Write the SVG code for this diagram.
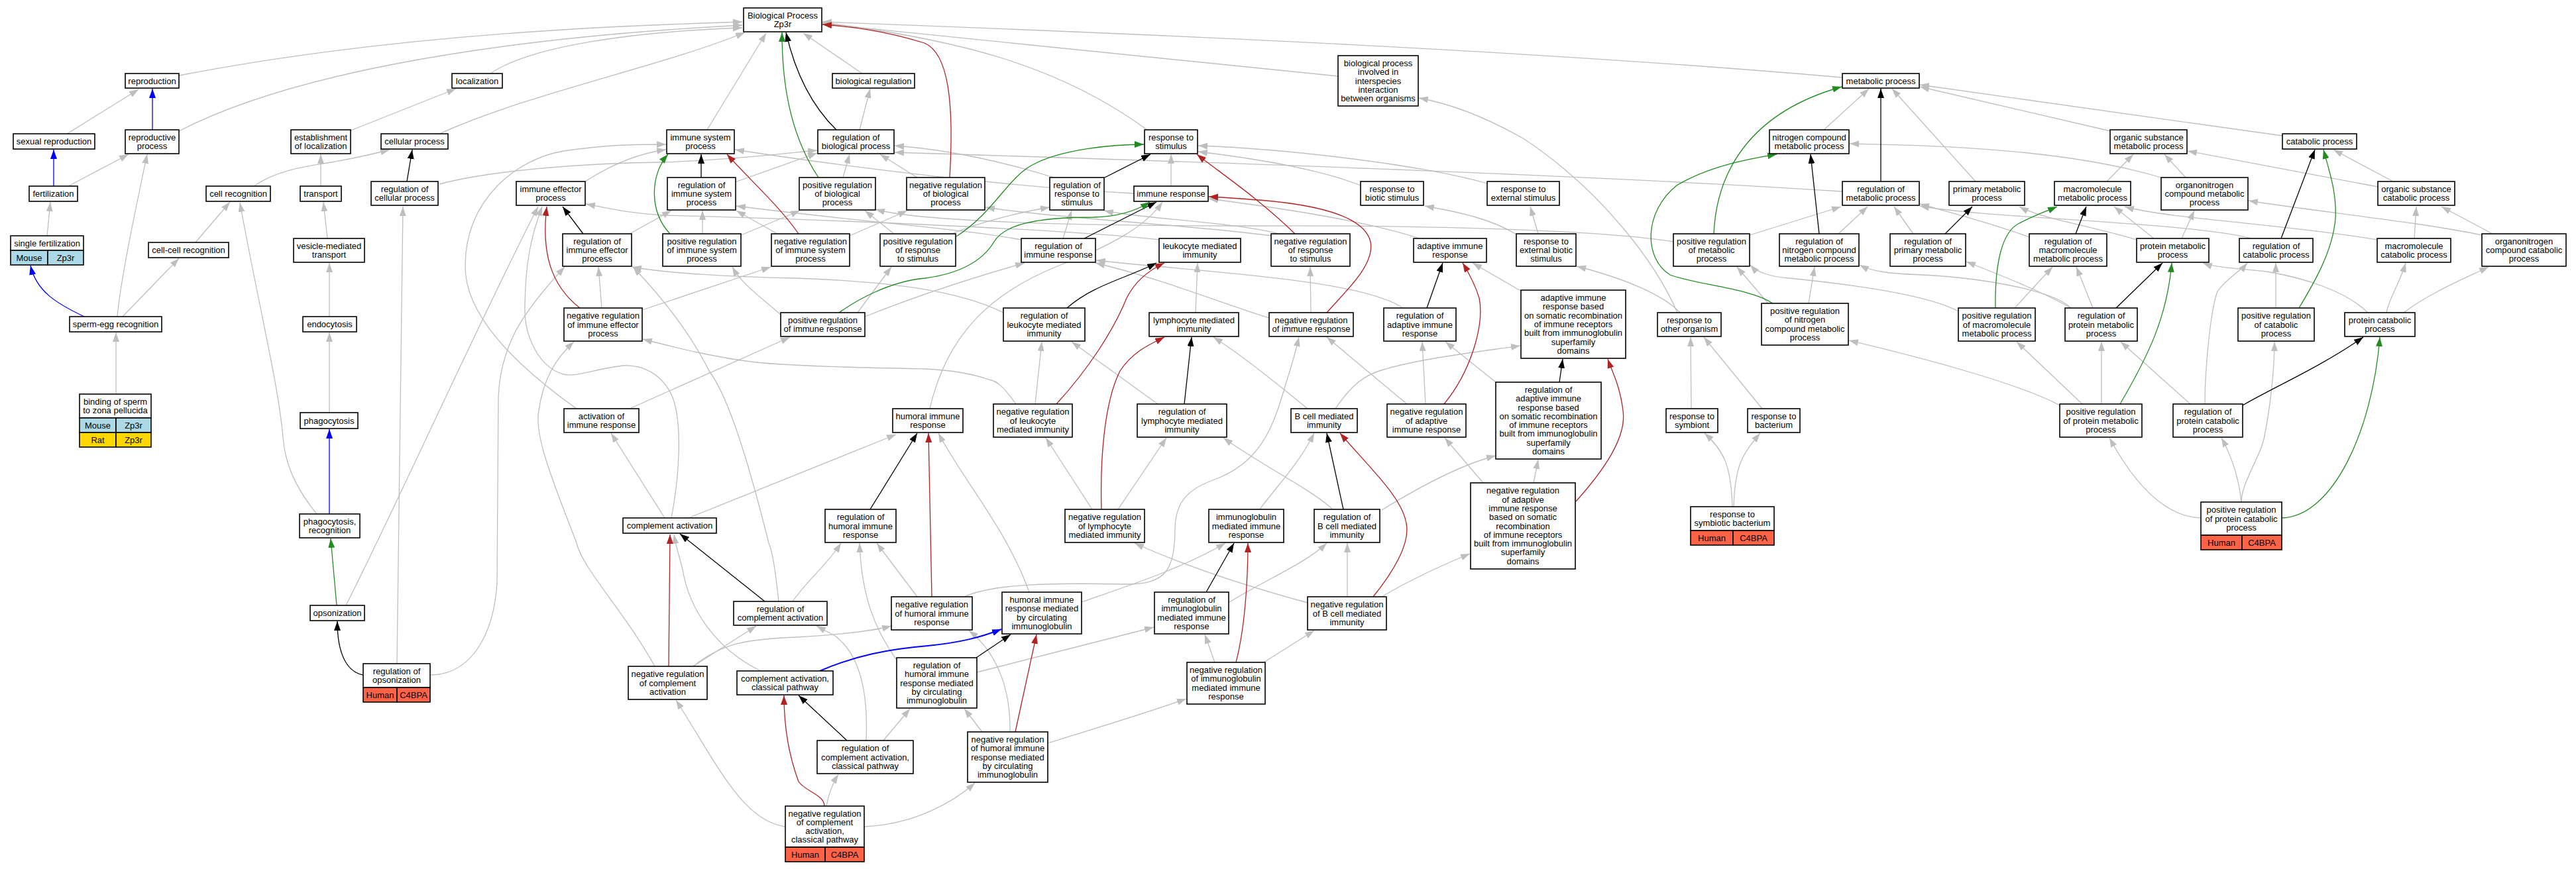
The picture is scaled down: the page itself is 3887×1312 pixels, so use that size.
<svg xmlns="http://www.w3.org/2000/svg" width="3887" height="1312" viewBox="0 0 3887 1312">
<style>
.bg{fill:#fff}
.box{fill:#fff;stroke:#000;stroke-width:1.6}
.cb{fill:#add8e6;stroke:#000;stroke-width:1.6}
.cy{fill:#ffd700;stroke:#000;stroke-width:1.6}
.cr{fill:#ff6347;stroke:#000;stroke-width:1.6}
text{font-family:"Liberation Sans",Arial,Helvetica,sans-serif;font-size:13px;fill:#000;text-anchor:middle;dominant-baseline:central}
.e path{fill:none;stroke-width:1.3}
.e .g{stroke:#bebebe;marker-end:url(#ag)}
.e .k{stroke:#000;marker-end:url(#ak)}
.e .gr{stroke:#228b22;marker-end:url(#agr)}
.e .r{stroke:#b22222;marker-end:url(#ar)}
.e .b{stroke:#0000ff;marker-end:url(#ab)}
</style>
<defs>
<marker id="ag" markerUnits="userSpaceOnUse" markerWidth="15" markerHeight="11" refX="14" refY="5" orient="auto"><path d="M0,0 L14,5 L0,10 z" fill="#bebebe"/></marker>
<marker id="ak" markerUnits="userSpaceOnUse" markerWidth="15" markerHeight="11" refX="14" refY="5" orient="auto"><path d="M0,0 L14,5 L0,10 z" fill="#000"/></marker>
<marker id="agr" markerUnits="userSpaceOnUse" markerWidth="15" markerHeight="11" refX="14" refY="5" orient="auto"><path d="M0,0 L14,5 L0,10 z" fill="#228b22"/></marker>
<marker id="ar" markerUnits="userSpaceOnUse" markerWidth="15" markerHeight="11" refX="14" refY="5" orient="auto"><path d="M0,0 L14,5 L0,10 z" fill="#b22222"/></marker>
<marker id="ab" markerUnits="userSpaceOnUse" markerWidth="15" markerHeight="11" refX="14" refY="5" orient="auto"><path d="M0,0 L14,5 L0,10 z" fill="#0000ff"/></marker>
</defs>
<rect class="bg" x="0" y="0" width="3887" height="1312"/>
<g id="connectors" class="e">
<path class="g" d="M270,114 C600,50 950,38 1120,33"/>
<path class="g" d="M270,198 C420,120 700,60 1120,38"/>
<path class="g" d="M740,111 C800,70 950,48 1120,42"/>
<path class="g" d="M663,202 C800,140 1000,100 1124,49"/>
<path class="g" d="M101,202 L209,135"/>
<path class="g" d="M103,281 L194,233"/>
<path class="g" d="M71,356 L76,305"/>
<path class="g" d="M185,478 L270,390"/>
<path class="g" d="M177,478 C182,420 208,300 222,233"/>
<path class="g" d="M175,595 L175,502"/>
<path class="g" d="M295,366 L347,305"/>
<path class="g" d="M383,281 C420,255 470,250 500,245 C540,238 565,232 588,226"/>
<path class="g" d="M529,197 L688,134"/>
<path class="g" d="M484,281 L484,233"/>
<path class="g" d="M494,360 L488,305"/>
<path class="g" d="M497,478 L497,397"/>
<path class="g" d="M497,623 L497,502"/>
<path class="g" d="M478,776 C445,735 430,700 427,660 C420,580 390,460 362,306"/>
<path class="g" d="M599,1002 L608,312"/>
<path class="g" d="M663,278 C750,255 900,246 1000,245 C1100,242 1180,232 1233,227"/>
<path class="g" d="M1067,196 L1156,50"/>
<path class="g" d="M1301,111 L1212,50"/>
<path class="g" d="M1731,196 C1600,100 1450,60 1241,34"/>
<path class="g" d="M2780,117 C2300,75 1700,50 1241,33"/>
<path class="g" d="M2019,115 L1241,36"/>
<path class="g" d="M1297,196 L1313,134"/>
<path class="g" d="M1711,292 C1500,280 1300,255 1109,226"/>
<path class="g" d="M883,274 C920,250 960,232 1005,226"/>
<path class="g" d="M870,617 C790,560 700,480 702,400 C703,300 780,240 850,228 C920,218 960,218 1005,218"/>
<path class="g" d="M1109,275 L1233,231"/>
<path class="g" d="M1272,268 L1282,233"/>
<path class="g" d="M1384,268 L1328,233"/>
<path class="g" d="M2780,289 C2400,265 1900,247 1350,230"/>
<path class="g" d="M1590,268 C1500,240 1420,225 1350,220"/>
<path class="g" d="M1767,281 L1767,233"/>
<path class="g" d="M2244,277 C2150,250 1950,225 1808,220"/>
<path class="g" d="M2053,280 C1990,255 1900,240 1808,229"/>
<path class="g" d="M522,914 C600,760 730,470 812,312"/>
<path class="g" d="M1013,782 C1025,720 1030,640 1015,600 C1000,565 970,550 940,552 C900,556 870,570 850,565 C815,555 790,510 792,460 C793,400 800,360 818,312"/>
<path class="g" d="M1749,362 C1600,345 1200,330 1000,325 C950,322 920,315 884,308"/>
<path class="g" d="M950,353 L1013,318"/>
<path class="g" d="M1060,353 L1060,318"/>
<path class="g" d="M1173,353 L1111,318"/>
<path class="g" d="M1541,362 C1450,345 1300,335 1111,311"/>
<path class="g" d="M1118,355 L1207,318"/>
<path class="g" d="M1349,353 L1305,318"/>
<path class="g" d="M2525,365 C2400,345 2100,340 1900,341 C1700,341 1400,338 1321,316"/>
<path class="g" d="M1282,356 L1369,318"/>
<path class="g" d="M1919,356 C1800,340 1600,330 1487,313"/>
<path class="g" d="M1436,353 C1480,335 1540,320 1584,313"/>
<path class="g" d="M1930,353 C1860,335 1720,330 1666,318"/>
<path class="g" d="M1604,360 L1617,318"/>
<path class="g" d="M649,1019 C710,1019 745,960 750,880 L752,600 C755,520 790,470 852,403"/>
<path class="g" d="M908,465 L903,403"/>
<path class="g" d="M1175,908 C1170,860 1165,830 1160,820 C1130,700 1100,600 1070,560 C1040,500 1000,450 955,403"/>
<path class="g" d="M1514,472 C1450,440 1350,425 1200,420 C1100,418 1000,412 954,403"/>
<path class="g" d="M988,1006 C940,920 880,860 870,820 C840,740 805,660 813,620 C820,570 840,540 866,516"/>
<path class="g" d="M1533,610 C1515,585 1505,575 1492,573 C1460,562 1420,558 1396,557 C1300,555 1200,553 1141,547 C1080,540 1020,525 970,512"/>
<path class="g" d="M969,468 L1163,403"/>
<path class="g" d="M950,617 L1192,509"/>
<path class="g" d="M1178,475 C1150,450 1120,430 1105,403"/>
<path class="g" d="M1294,472 L1345,403"/>
<path class="g" d="M1305,478 C1400,440 1500,410 1546,397"/>
<path class="g" d="M1915,480 C1850,460 1750,420 1653,397"/>
<path class="g" d="M2117,465 C2050,420 1800,410 1654,393"/>
<path class="g" d="M1978,472 L1977,403"/>
<path class="g" d="M1403,617 C1430,500 1500,440 1600,400 C1680,370 1730,340 1754,305"/>
<path class="g" d="M2142,360 C2050,330 1900,310 1824,300"/>
<path class="g" d="M1804,472 L1807,397"/>
<path class="g" d="M1562,610 L1572,516"/>
<path class="g" d="M1747,610 L1617,516"/>
<path class="g" d="M1973,617 C1940,590 1880,540 1831,509"/>
<path class="g" d="M1039,782 L1352,656"/>
<path class="g" d="M1553,894 C1520,800 1450,720 1416,654"/>
<path class="g" d="M1003,782 L922,654"/>
<path class="g" d="M1648,769 L1578,661"/>
<path class="g" d="M1687,769 L1760,661"/>
<path class="g" d="M2011,769 C1980,740 1900,700 1846,661"/>
<path class="g" d="M1196,908 C1215,880 1250,850 1269,820"/>
<path class="g" d="M1352,995 C1320,950 1300,900 1297,820"/>
<path class="g" d="M1384,901 L1323,820"/>
<path class="g" d="M1973,910 C1900,890 1800,860 1712,820"/>
<path class="g" d="M1632,909 C1700,885 1780,860 1849,820"/>
<path class="g" d="M1900,770 C1930,730 1960,700 1983,654"/>
<path class="g" d="M1455,901 C1500,880 1600,880 1700,882 C1760,882 1772,860 1773,800 C1773,760 1790,740 1830,725 C1900,700 1920,650 1940,580 C1950,550 1955,530 1960,509"/>
<path class="g" d="M2123,610 L2002,509"/>
<path class="g" d="M2296,440 L2222,397"/>
<path class="g" d="M2151,610 L2146,516"/>
<path class="g" d="M2257,577 L2181,516"/>
<path class="g" d="M2015,617 C2040,580 2060,565 2091,557 C2150,540 2240,530 2294,522"/>
<path class="g" d="M2314,729 L2321,694"/>
<path class="g" d="M2085,770 C2150,730 2210,700 2257,688"/>
<path class="g" d="M2238,729 L2180,661"/>
<path class="g" d="M2085,901 C2120,880 2160,860 2218,836"/>
<path class="g" d="M2033,901 L2033,820"/>
<path class="g" d="M1855,909 C1920,870 1970,850 2002,820"/>
<path class="g" d="M1907,1000 L1983,952"/>
<path class="g" d="M1833,1000 L1818,958"/>
<path class="g" d="M1581,1122 C1650,1100 1720,1080 1790,1055"/>
<path class="g" d="M1482,1105 L1455,1070"/>
<path class="g" d="M1524,1105 C1525,1050 1510,990 1462,952"/>
<path class="g" d="M1474,1015 L1741,947"/>
<path class="g" d="M1333,1118 L1373,1070"/>
<path class="g" d="M1307,1118 C1310,1050 1300,990 1260,960 L1232,945"/>
<path class="g" d="M1247,1217 C1250,1200 1255,1185 1265,1169"/>
<path class="g" d="M1185,1248 C1120,1240 1080,1150 1020,1057"/>
<path class="g" d="M1304,1248 C1380,1245 1440,1210 1471,1182"/>
<path class="g" d="M1148,1013 C1080,980 1040,920 1030,860 C1025,840 1020,825 1017,807"/>
<path class="g" d="M1046,1006 L1141,945"/>
<path class="g" d="M1046,1006 C1090,970 1130,965 1200,962 C1270,958 1320,952 1345,945"/>
<path class="g" d="M2531,472 C2500,400 2420,290 2300,210 C2230,170 2180,155 2141,148"/>
<path class="g" d="M2535,472 C2510,445 2450,420 2379,402"/>
<path class="g" d="M2552,617 L2551,509"/>
<path class="g" d="M2659,617 L2571,509"/>
<path class="g" d="M2614,765 C2612,700 2600,680 2572,654"/>
<path class="g" d="M2616,765 C2618,700 2630,685 2656,654"/>
<path class="g" d="M2321,353 L2309,312"/>
<path class="g" d="M2290,355 C2250,330 2200,320 2150,311"/>
<path class="g" d="M2751,197 L2820,134"/>
<path class="g" d="M2981,274 L2855,134"/>
<path class="g" d="M3185,198 L2897,131"/>
<path class="g" d="M3444,205 L2897,128"/>
<path class="g" d="M2774,353 L2818,312"/>
<path class="g" d="M2640,355 L2778,312"/>
<path class="g" d="M2887,353 L2858,312"/>
<path class="g" d="M3397,360 C3300,335 3000,330 2897,311"/>
<path class="g" d="M3062,358 C3000,335 2940,320 2897,308"/>
<path class="g" d="M2729,458 L2738,403"/>
<path class="g" d="M3125,465 C3100,440 3000,420 2900,415 C2850,413 2825,410 2806,400"/>
<path class="g" d="M3108,612 C3050,580 2900,540 2790,514"/>
<path class="g" d="M2668,458 L2621,403"/>
<path class="g" d="M2955,470 C2900,440 2750,425 2700,420 C2670,418 2650,410 2641,400"/>
<path class="g" d="M3125,465 C3080,440 3030,420 2967,395"/>
<path class="g" d="M3040,465 L3097,403"/>
<path class="g" d="M3158,465 L3133,403"/>
<path class="g" d="M3250,360 L3190,312"/>
<path class="g" d="M3292,360 L3311,318"/>
<path class="g" d="M3587,362 C3461,340 3270,330 3206,312"/>
<path class="g" d="M3643,360 L3646,312"/>
<path class="g" d="M3761,353 L3684,312"/>
<path class="g" d="M3745,355 C3650,335 3500,320 3393,303"/>
<path class="g" d="M3611,274 L3521,226"/>
<path class="g" d="M3588,282 L3301,228"/>
<path class="g" d="M3179,274 L3219,233"/>
<path class="g" d="M3298,268 L3266,233"/>
<path class="g" d="M3261,268 C3150,235 3000,220 2791,217"/>
<path class="g" d="M3224,362 C3150,340 3080,330 3047,312"/>
<path class="g" d="M3434,465 L3434,397"/>
<path class="g" d="M3382,758 C3382,730 3410,690 3416,663 C3425,620 3432,560 3432,516"/>
<path class="g" d="M3573,472 C3540,440 3480,420 3420,410 C3370,405 3340,403 3324,397"/>
<path class="g" d="M3601,472 C3605,450 3620,430 3630,397"/>
<path class="g" d="M3627,472 C3670,440 3720,420 3755,403"/>
<path class="g" d="M3327,610 C3327,560 3335,470 3346,440 C3360,420 3380,410 3391,397"/>
<path class="g" d="M3305,610 L3200,516"/>
<path class="g" d="M3171,610 L3171,516"/>
<path class="g" d="M3142,610 L3043,516"/>
<path class="g" d="M3321,782 C3260,780 3215,720 3183,661"/>
<path class="g" d="M3382,758 C3378,720 3368,690 3352,661"/>
<path class="k" d="M614,274 L622,226"/>
<path class="k" d="M1262,196 C1225,160 1200,110 1186,49"/>
<path class="k" d="M1058,268 L1058,233"/>
<path class="k" d="M880,353 L849,312"/>
<path class="k" d="M1667,268 L1736,233"/>
<path class="k" d="M1636,360 L1745,305"/>
<path class="k" d="M1610,465 C1650,430 1700,420 1745,397"/>
<path class="k" d="M1787,610 L1798,509"/>
<path class="k" d="M1313,769 L1384,654"/>
<path class="k" d="M1154,908 L1026,806"/>
<path class="k" d="M1278,1118 L1205,1050"/>
<path class="k" d="M1473,993 L1525,958"/>
<path class="k" d="M1820,894 L1862,820"/>
<path class="k" d="M2027,769 L2002,654"/>
<path class="k" d="M2153,465 L2177,397"/>
<path class="k" d="M2353,577 L2358,542"/>
<path class="k" d="M548,1019 C525,1015 509,990 509,938"/>
<path class="k" d="M2838,274 L2838,134"/>
<path class="k" d="M2745,353 L2732,233"/>
<path class="k" d="M2935,353 L2976,312"/>
<path class="k" d="M3132,353 L3148,312"/>
<path class="k" d="M3193,465 L3263,397"/>
<path class="k" d="M3442,360 L3493,226"/>
<path class="k" d="M3384,612 C3430,585 3500,555 3566,509"/>
<path class="gr" d="M1235,268 C1190,200 1180,120 1180,49"/>
<path class="gr" d="M1011,353 C980,320 980,265 1008,233"/>
<path class="gr" d="M1443,357 C1500,320 1520,270 1556,250 C1600,225 1680,218 1726,218"/>
<path class="gr" d="M1266,472 C1290,455 1340,425 1396,420 C1455,412 1485,390 1500,365 C1515,340 1560,328 1650,328 C1690,327 1715,318 1735,305"/>
<path class="gr" d="M508,914 L499,813"/>
<path class="gr" d="M2586,353 C2590,260 2640,170 2779,131"/>
<path class="gr" d="M2675,458 C2640,435 2560,430 2520,415 C2480,390 2480,320 2530,280 C2580,250 2640,240 2681,233"/>
<path class="gr" d="M3011,465 C3010,400 3020,350 3047,337 C3070,325 3090,318 3104,312"/>
<path class="gr" d="M3199,610 C3240,540 3270,480 3277,397"/>
<path class="gr" d="M3469,465 C3490,430 3520,380 3524,330 C3526,290 3515,260 3506,226"/>
<path class="gr" d="M3443,782 C3520,780 3580,650 3591,509"/>
<path class="r" d="M1433,268 C1440,150 1430,80 1395,65 C1330,45 1280,40 1241,37"/>
<path class="r" d="M1205,353 C1175,310 1130,270 1097,233"/>
<path class="r" d="M1954,353 C1900,300 1840,260 1806,233"/>
<path class="r" d="M875,465 C830,430 817,380 825,312"/>
<path class="r" d="M2002,472 C2030,440 2075,400 2068,365 C2060,330 2000,310 1900,302 C1870,300 1850,298 1824,297"/>
<path class="r" d="M1594,610 C1640,560 1680,500 1700,450 C1715,420 1740,405 1757,397"/>
<path class="r" d="M1662,769 C1660,700 1665,610 1690,560 C1710,530 1735,520 1757,509"/>
<path class="r" d="M1406,901 L1401,654"/>
<path class="r" d="M1009,1006 L1011,807"/>
<path class="r" d="M1244,1217 C1244,1200 1215,1195 1205,1180 C1190,1140 1183,1100 1183,1050"/>
<path class="r" d="M1532,1105 L1564,958"/>
<path class="r" d="M1865,1000 C1878,950 1883,880 1883,820"/>
<path class="r" d="M2072,901 C2105,860 2128,820 2122,790 C2115,750 2070,710 2022,654"/>
<path class="r" d="M2179,610 C2220,560 2240,490 2232,450 C2226,430 2215,410 2207,397"/>
<path class="r" d="M2378,757 C2420,710 2455,660 2449,620 C2444,580 2432,560 2426,542"/>
<path class="b" d="M230,196 L230,134"/>
<path class="b" d="M81,281 L81,226"/>
<path class="b" d="M127,478 C85,458 55,440 46,401"/>
<path class="b" d="M497,776 L497,648"/>
<path class="b" style="stroke-width:2" d="M1237,1013 C1290,990 1340,980 1400,975 C1450,970 1480,962 1511,950"/>
</g>
<g id="n-bp"><rect class="box" x="1122" y="12" width="118" height="36"/><text x="1181" y="23.35">Biological Process</text><text x="1181" y="36.65">Zp3r</text></g>
<g id="n-reproduction"><rect class="box" x="189" y="111" width="81" height="22"/><text x="229.5" y="122">reproduction</text></g>
<g id="n-localization"><rect class="box" x="682" y="111" width="76" height="22"/><text x="720" y="122">localization</text></g>
<g id="n-bioreg"><rect class="box" x="1256" y="111" width="124" height="22"/><text x="1318" y="122">biological regulation</text></g>
<g id="n-interspecies"><rect class="box" x="2019" y="84" width="121" height="76"/><text x="2079.5" y="95.4">biological process</text><text x="2079.5" y="108.7">involved in</text><text x="2079.5" y="122">interspecies</text><text x="2079.5" y="135.3">interaction</text><text x="2079.5" y="148.6">between organisms</text></g>
<g id="n-metabolic"><rect class="box" x="2780" y="111" width="116" height="22"/><text x="2838" y="122">metabolic process</text></g>
<g id="n-sexrep"><rect class="box" x="20" y="202" width="123" height="23"/><text x="81.5" y="213.5">sexual reproduction</text></g>
<g id="n-reproproc"><rect class="box" x="189" y="196" width="81" height="36"/><text x="229.5" y="207.35">reproductive</text><text x="229.5" y="220.65">process</text></g>
<g id="n-estloc"><rect class="box" x="439" y="196" width="90" height="36"/><text x="484" y="207.35">establishment</text><text x="484" y="220.65">of localization</text></g>
<g id="n-cellproc"><rect class="box" x="575" y="202" width="101" height="23"/><text x="625.5" y="213.5">cellular process</text></g>
<g id="n-isp"><rect class="box" x="1006" y="196" width="102" height="36"/><text x="1057" y="207.35">immune system</text><text x="1057" y="220.65">process</text></g>
<g id="n-regbio"><rect class="box" x="1234" y="196" width="115" height="36"/><text x="1291.5" y="207.35">regulation of</text><text x="1291.5" y="220.65">biological process</text></g>
<g id="n-respstim"><rect class="box" x="1727" y="196" width="80" height="36"/><text x="1767" y="207.35">response to</text><text x="1767" y="220.65">stimulus</text></g>
<g id="n-nitro"><rect class="box" x="2670" y="196" width="120" height="36"/><text x="2730" y="207.35">nitrogen compound</text><text x="2730" y="220.65">metabolic process</text></g>
<g id="n-orgsub"><rect class="box" x="3184" y="196" width="116" height="36"/><text x="3242" y="207.35">organic substance</text><text x="3242" y="220.65">metabolic process</text></g>
<g id="n-catab"><rect class="box" x="3444" y="202" width="112" height="23"/><text x="3500" y="213.5">catabolic process</text></g>
<g id="n-fert"><rect class="box" x="44" y="281" width="73" height="23"/><text x="80.5" y="292.5">fertilization</text></g>
<g id="n-cellrec"><rect class="box" x="311" y="281" width="97" height="23"/><text x="359.5" y="292.5">cell recognition</text></g>
<g id="n-transport"><rect class="box" x="453" y="281" width="62" height="23"/><text x="484" y="292.5">transport</text></g>
<g id="n-regcell"><rect class="box" x="560" y="274" width="101" height="36"/><text x="610.5" y="285.35">regulation of</text><text x="610.5" y="298.65">cellular process</text></g>
<g id="n-immeff"><rect class="box" x="779" y="274" width="104" height="36"/><text x="831" y="285.35">immune effector</text><text x="831" y="298.65">process</text></g>
<g id="n-regisp"><rect class="box" x="1007" y="268" width="103" height="49"/><text x="1058.5" y="279.2">regulation of</text><text x="1058.5" y="292.5">immune system</text><text x="1058.5" y="305.8">process</text></g>
<g id="n-posregbio"><rect class="box" x="1206" y="268" width="115" height="49"/><text x="1263.5" y="279.2">positive regulation</text><text x="1263.5" y="292.5">of biological</text><text x="1263.5" y="305.8">process</text></g>
<g id="n-negregbio"><rect class="box" x="1368" y="268" width="118" height="49"/><text x="1427" y="279.2">negative regulation</text><text x="1427" y="292.5">of biological</text><text x="1427" y="305.8">process</text></g>
<g id="n-regresp"><rect class="box" x="1584" y="268" width="82" height="49"/><text x="1625" y="279.2">regulation of</text><text x="1625" y="292.5">response to</text><text x="1625" y="305.8">stimulus</text></g>
<g id="n-immresp"><rect class="box" x="1711" y="281" width="112" height="23"/><text x="1767" y="292.5">immune response</text></g>
<g id="n-biotic"><rect class="box" x="2053" y="274" width="95" height="36"/><text x="2100.5" y="285.35">response to</text><text x="2100.5" y="298.65">biotic stimulus</text></g>
<g id="n-external"><rect class="box" x="2244" y="274" width="109" height="36"/><text x="2298.5" y="285.35">response to</text><text x="2298.5" y="298.65">external stimulus</text></g>
<g id="n-regmet"><rect class="box" x="2780" y="274" width="116" height="36"/><text x="2838" y="285.35">regulation of</text><text x="2838" y="298.65">metabolic process</text></g>
<g id="n-primary"><rect class="box" x="2941" y="274" width="114" height="36"/><text x="2998" y="285.35">primary metabolic</text><text x="2998" y="298.65">process</text></g>
<g id="n-macro"><rect class="box" x="3100" y="274" width="115" height="36"/><text x="3157.5" y="285.35">macromolecule</text><text x="3157.5" y="298.65">metabolic process</text></g>
<g id="n-orgnit"><rect class="box" x="3261" y="268" width="131" height="49"/><text x="3326.5" y="279.2">organonitrogen</text><text x="3326.5" y="292.5">compound metabolic</text><text x="3326.5" y="305.8">process</text></g>
<g id="n-orgsubcat"><rect class="box" x="3588" y="274" width="116" height="36"/><text x="3646" y="285.35">organic substance</text><text x="3646" y="298.65">catabolic process</text></g>
<g id="n-singfert"><rect class="box" x="16" y="356" width="110" height="22"/><text x="71" y="367">single fertilization</text><rect class="cb" x="16" y="378" width="56" height="22"/><rect class="cb" x="72" y="378" width="54" height="22"/><text x="44" y="389">Mouse</text><text x="99" y="389">Zp3r</text></g>
<g id="n-cellcell"><rect class="box" x="224" y="366" width="121" height="23"/><text x="284.5" y="377.5">cell-cell recognition</text></g>
<g id="n-vesicle"><rect class="box" x="443" y="360" width="107" height="36"/><text x="496.5" y="371.35">vesicle-mediated</text><text x="496.5" y="384.65">transport</text></g>
<g id="n-regimmeff"><rect class="box" x="849" y="353" width="104" height="49"/><text x="901" y="364.2">regulation of</text><text x="901" y="377.5">immune effector</text><text x="901" y="390.8">process</text></g>
<g id="n-posregisp"><rect class="box" x="1000" y="353" width="118" height="49"/><text x="1059" y="364.2">positive regulation</text><text x="1059" y="377.5">of immune system</text><text x="1059" y="390.8">process</text></g>
<g id="n-negregisp"><rect class="box" x="1164" y="353" width="118" height="49"/><text x="1223" y="364.2">negative regulation</text><text x="1223" y="377.5">of immune system</text><text x="1223" y="390.8">process</text></g>
<g id="n-posregresp"><rect class="box" x="1328" y="353" width="114" height="49"/><text x="1385" y="364.2">positive regulation</text><text x="1385" y="377.5">of response</text><text x="1385" y="390.8">to stimulus</text></g>
<g id="n-regimmresp"><rect class="box" x="1541" y="360" width="112" height="36"/><text x="1597" y="371.35">regulation of</text><text x="1597" y="384.65">immune response</text></g>
<g id="n-leuk"><rect class="box" x="1749" y="360" width="123" height="36"/><text x="1810.5" y="371.35">leukocyte mediated</text><text x="1810.5" y="384.65">immunity</text></g>
<g id="n-negregresp"><rect class="box" x="1918" y="353" width="119" height="49"/><text x="1977.5" y="364.2">negative regulation</text><text x="1977.5" y="377.5">of response</text><text x="1977.5" y="390.8">to stimulus</text></g>
<g id="n-adaptive"><rect class="box" x="2133" y="360" width="110" height="36"/><text x="2188" y="371.35">adaptive immune</text><text x="2188" y="384.65">response</text></g>
<g id="n-extbiotic"><rect class="box" x="2288" y="353" width="90" height="49"/><text x="2333" y="364.2">response to</text><text x="2333" y="377.5">external biotic</text><text x="2333" y="390.8">stimulus</text></g>
<g id="n-posregmet"><rect class="box" x="2525" y="353" width="115" height="49"/><text x="2582.5" y="364.2">positive regulation</text><text x="2582.5" y="377.5">of metabolic</text><text x="2582.5" y="390.8">process</text></g>
<g id="n-regnitro"><rect class="box" x="2685" y="353" width="120" height="49"/><text x="2745" y="364.2">regulation of</text><text x="2745" y="377.5">nitrogen compound</text><text x="2745" y="390.8">metabolic process</text></g>
<g id="n-regprim"><rect class="box" x="2852" y="353" width="114" height="49"/><text x="2909" y="364.2">regulation of</text><text x="2909" y="377.5">primary metabolic</text><text x="2909" y="390.8">process</text></g>
<g id="n-regmacro"><rect class="box" x="3062" y="353" width="117" height="49"/><text x="3120.5" y="364.2">regulation of</text><text x="3120.5" y="377.5">macromolecule</text><text x="3120.5" y="390.8">metabolic process</text></g>
<g id="n-protmet"><rect class="box" x="3224" y="360" width="109" height="36"/><text x="3278.5" y="371.35">protein metabolic</text><text x="3278.5" y="384.65">process</text></g>
<g id="n-regcatab"><rect class="box" x="3379" y="360" width="111" height="36"/><text x="3434.5" y="371.35">regulation of</text><text x="3434.5" y="384.65">catabolic process</text></g>
<g id="n-macrocat"><rect class="box" x="3587" y="360" width="111" height="36"/><text x="3642.5" y="371.35">macromolecule</text><text x="3642.5" y="384.65">catabolic process</text></g>
<g id="n-orgnitcat"><rect class="box" x="3745" y="353" width="127" height="49"/><text x="3808.5" y="364.2">organonitrogen</text><text x="3808.5" y="377.5">compound catabolic</text><text x="3808.5" y="390.8">process</text></g>
<g id="n-spermegg"><rect class="box" x="105" y="478" width="139" height="23"/><text x="174.5" y="489.5">sperm-egg recognition</text></g>
<g id="n-endo"><rect class="box" x="457" y="478" width="81" height="23"/><text x="497.5" y="489.5">endocytosis</text></g>
<g id="n-negregimmeff"><rect class="box" x="851" y="465" width="118" height="50"/><text x="910" y="476.7">negative regulation</text><text x="910" y="490">of immune effector</text><text x="910" y="503.3">process</text></g>
<g id="n-posregimmresp"><rect class="box" x="1178" y="472" width="127" height="36"/><text x="1241.5" y="483.35">positive regulation</text><text x="1241.5" y="496.65">of immune response</text></g>
<g id="n-regleuk"><rect class="box" x="1514" y="465" width="123" height="50"/><text x="1575.5" y="476.7">regulation of</text><text x="1575.5" y="490">leukocyte mediated</text><text x="1575.5" y="503.3">immunity</text></g>
<g id="n-lymph"><rect class="box" x="1734" y="472" width="135" height="36"/><text x="1801.5" y="483.35">lymphocyte mediated</text><text x="1801.5" y="496.65">immunity</text></g>
<g id="n-negregimmresp"><rect class="box" x="1915" y="472" width="127" height="36"/><text x="1978.5" y="483.35">negative regulation</text><text x="1978.5" y="496.65">of immune response</text></g>
<g id="n-regadapt"><rect class="box" x="2088" y="465" width="109" height="50"/><text x="2142.5" y="476.7">regulation of</text><text x="2142.5" y="490">adaptive immune</text><text x="2142.5" y="503.3">response</text></g>
<g id="n-adaptsom"><rect class="box" x="2295" y="438" width="158" height="103"/><text x="2374" y="449.6">adaptive immune</text><text x="2374" y="462.9">response based</text><text x="2374" y="476.2">on somatic recombination</text><text x="2374" y="489.5">of immune receptors</text><text x="2374" y="502.8">built from immunoglobulin</text><text x="2374" y="516.1">superfamily</text><text x="2374" y="529.4">domains</text></g>
<g id="n-other"><rect class="box" x="2501" y="472" width="96" height="36"/><text x="2549" y="483.35">response to</text><text x="2549" y="496.65">other organism</text></g>
<g id="n-posregnitro"><rect class="box" x="2658" y="458" width="131" height="63"/><text x="2723.5" y="469.55">positive regulation</text><text x="2723.5" y="482.85">of nitrogen</text><text x="2723.5" y="496.15">compound metabolic</text><text x="2723.5" y="509.45">process</text></g>
<g id="n-posregmacro"><rect class="box" x="2955" y="465" width="116" height="50"/><text x="3013" y="476.7">positive regulation</text><text x="3013" y="490">of macromolecule</text><text x="3013" y="503.3">metabolic process</text></g>
<g id="n-regprot"><rect class="box" x="3116" y="465" width="109" height="50"/><text x="3170.5" y="476.7">regulation of</text><text x="3170.5" y="490">protein metabolic</text><text x="3170.5" y="503.3">process</text></g>
<g id="n-posregcatab"><rect class="box" x="3377" y="465" width="115" height="50"/><text x="3434.5" y="476.7">positive regulation</text><text x="3434.5" y="490">of catabolic</text><text x="3434.5" y="503.3">process</text></g>
<g id="n-protcat"><rect class="box" x="3538" y="472" width="106" height="36"/><text x="3591" y="483.35">protein catabolic</text><text x="3591" y="496.65">process</text></g>
<g id="n-binding"><rect class="box" x="120" y="595" width="108" height="36"/><text x="174" y="606.35">binding of sperm</text><text x="174" y="619.65">to zona pellucida</text><rect class="cb" x="120" y="631" width="55" height="22"/><rect class="cb" x="175" y="631" width="53" height="22"/><text x="147.5" y="642">Mouse</text><text x="201.5" y="642">Zp3r</text><rect class="cy" x="120" y="653" width="55" height="22"/><rect class="cy" x="175" y="653" width="53" height="22"/><text x="147.5" y="664">Rat</text><text x="201.5" y="664">Zp3r</text></g>
<g id="n-phago"><rect class="box" x="453" y="623" width="87" height="24"/><text x="496.5" y="635">phagocytosis</text></g>
<g id="n-activ"><rect class="box" x="851" y="617" width="113" height="36"/><text x="907.5" y="628.35">activation of</text><text x="907.5" y="641.65">immune response</text></g>
<g id="n-humoral"><rect class="box" x="1347" y="617" width="106" height="36"/><text x="1400" y="628.35">humoral immune</text><text x="1400" y="641.65">response</text></g>
<g id="n-negregleuk"><rect class="box" x="1499" y="610" width="119" height="50"/><text x="1558.5" y="621.7">negative regulation</text><text x="1558.5" y="635">of leukocyte</text><text x="1558.5" y="648.3">mediated immunity</text></g>
<g id="n-reglymph"><rect class="box" x="1716" y="610" width="135" height="50"/><text x="1783.5" y="621.7">regulation of</text><text x="1783.5" y="635">lymphocyte mediated</text><text x="1783.5" y="648.3">immunity</text></g>
<g id="n-bcell"><rect class="box" x="1948" y="617" width="100" height="36"/><text x="1998" y="628.35">B cell mediated</text><text x="1998" y="641.65">immunity</text></g>
<g id="n-negregadapt"><rect class="box" x="2093" y="610" width="119" height="50"/><text x="2152.5" y="621.7">negative regulation</text><text x="2152.5" y="635">of adaptive</text><text x="2152.5" y="648.3">immune response</text></g>
<g id="n-regadaptsom"><rect class="box" x="2257" y="577" width="159" height="116"/><text x="2336.5" y="588.45">regulation of</text><text x="2336.5" y="601.75">adaptive immune</text><text x="2336.5" y="615.05">response based</text><text x="2336.5" y="628.35">on somatic recombination</text><text x="2336.5" y="641.65">of immune receptors</text><text x="2336.5" y="654.95">built from immunoglobulin</text><text x="2336.5" y="668.25">superfamily</text><text x="2336.5" y="681.55">domains</text></g>
<g id="n-symbiont"><rect class="box" x="2514" y="617" width="78" height="36"/><text x="2553" y="628.35">response to</text><text x="2553" y="641.65">symbiont</text></g>
<g id="n-bacterium"><rect class="box" x="2637" y="617" width="79" height="36"/><text x="2676.5" y="628.35">response to</text><text x="2676.5" y="641.65">bacterium</text></g>
<g id="n-posregprot"><rect class="box" x="3108" y="610" width="124" height="50"/><text x="3170" y="621.7">positive regulation</text><text x="3170" y="635">of protein metabolic</text><text x="3170" y="648.3">process</text></g>
<g id="n-regprotcat"><rect class="box" x="3279" y="610" width="105" height="50"/><text x="3331.5" y="621.7">regulation of</text><text x="3331.5" y="635">protein catabolic</text><text x="3331.5" y="648.3">process</text></g>
<g id="n-phagorec"><rect class="box" x="452" y="776" width="91" height="36"/><text x="497.5" y="787.35">phagocytosis,</text><text x="497.5" y="800.65">recognition</text></g>
<g id="n-compl"><rect class="box" x="940" y="782" width="141" height="23"/><text x="1010.5" y="793.5">complement activation</text></g>
<g id="n-reghum"><rect class="box" x="1245" y="769" width="107" height="50"/><text x="1298.5" y="780.7">regulation of</text><text x="1298.5" y="794">humoral immune</text><text x="1298.5" y="807.3">response</text></g>
<g id="n-negreglymph"><rect class="box" x="1607" y="769" width="120" height="50"/><text x="1667" y="780.7">negative regulation</text><text x="1667" y="794">of lymphocyte</text><text x="1667" y="807.3">mediated immunity</text></g>
<g id="n-igmed"><rect class="box" x="1824" y="769" width="113" height="50"/><text x="1880.5" y="780.7">immunoglobulin</text><text x="1880.5" y="794">mediated immune</text><text x="1880.5" y="807.3">response</text></g>
<g id="n-regbcell"><rect class="box" x="1983" y="769" width="99" height="50"/><text x="2032.5" y="780.7">regulation of</text><text x="2032.5" y="794">B cell mediated</text><text x="2032.5" y="807.3">immunity</text></g>
<g id="n-negregadaptsom"><rect class="box" x="2219" y="729" width="158" height="130"/><text x="2298" y="740.8">negative regulation</text><text x="2298" y="754.1">of adaptive</text><text x="2298" y="767.4">immune response</text><text x="2298" y="780.7">based on somatic</text><text x="2298" y="794">recombination</text><text x="2298" y="807.3">of immune receptors</text><text x="2298" y="820.6">built from immunoglobulin</text><text x="2298" y="833.9">superfamily</text><text x="2298" y="847.2">domains</text></g>
<g id="n-symbac"><rect class="box" x="2551" y="765" width="126" height="36"/><text x="2614" y="776.35">response to</text><text x="2614" y="789.65">symbiotic bacterium</text><rect class="cr" x="2551" y="801" width="64" height="22"/><rect class="cr" x="2615" y="801" width="62" height="22"/><text x="2583" y="812">Human</text><text x="2646" y="812">C4BPA</text></g>
<g id="n-posregprotcat"><rect class="box" x="3321" y="758" width="122" height="50"/><text x="3382" y="769.7">positive regulation</text><text x="3382" y="783">of protein catabolic</text><text x="3382" y="796.3">process</text><rect class="cr" x="3321" y="808" width="62" height="22"/><rect class="cr" x="3383" y="808" width="60" height="22"/><text x="3352" y="819">Human</text><text x="3413" y="819">C4BPA</text></g>
<g id="n-opson"><rect class="box" x="468" y="914" width="82" height="23"/><text x="509" y="925.5">opsonization</text></g>
<g id="n-regopson"><rect class="box" x="548" y="1002" width="101" height="36"/><text x="598.5" y="1013.35">regulation of</text><text x="598.5" y="1026.65">opsonization</text><rect class="cr" x="548" y="1038" width="51" height="22"/><rect class="cr" x="599" y="1038" width="50" height="22"/><text x="573.5" y="1049">Human</text><text x="624" y="1049">C4BPA</text></g>
<g id="n-regcompl"><rect class="box" x="1107" y="908" width="141" height="36"/><text x="1177.5" y="919.35">regulation of</text><text x="1177.5" y="932.65">complement activation</text></g>
<g id="n-neghum"><rect class="box" x="1345" y="901" width="122" height="50"/><text x="1406" y="912.7">negative regulation</text><text x="1406" y="926">of humoral immune</text><text x="1406" y="939.3">response</text></g>
<g id="n-humcirc"><rect class="box" x="1512" y="894" width="120" height="63"/><text x="1572" y="905.55">humoral immune</text><text x="1572" y="918.85">response mediated</text><text x="1572" y="932.15">by circulating</text><text x="1572" y="945.45">immunoglobulin</text></g>
<g id="n-regig"><rect class="box" x="1742" y="894" width="112" height="63"/><text x="1798" y="905.55">regulation of</text><text x="1798" y="918.85">immunoglobulin</text><text x="1798" y="932.15">mediated immune</text><text x="1798" y="945.45">response</text></g>
<g id="n-negregcompl"><rect class="box" x="948" y="1006" width="119" height="50"/><text x="1007.5" y="1017.7">negative regulation</text><text x="1007.5" y="1031">of complement</text><text x="1007.5" y="1044.3">activation</text></g>
<g id="n-classical"><rect class="box" x="1112" y="1013" width="145" height="36"/><text x="1184.5" y="1024.35">complement activation,</text><text x="1184.5" y="1037.65">classical pathway</text></g>
<g id="n-reghumcirc"><rect class="box" x="1353" y="993" width="121" height="76"/><text x="1413.5" y="1004.4">regulation of</text><text x="1413.5" y="1017.7">humoral immune</text><text x="1413.5" y="1031">response mediated</text><text x="1413.5" y="1044.3">by circulating</text><text x="1413.5" y="1057.6">immunoglobulin</text></g>
<g id="n-negregig"><rect class="box" x="1791" y="1000" width="118" height="63"/><text x="1850" y="1011.55">negative regulation</text><text x="1850" y="1024.85">of immunoglobulin</text><text x="1850" y="1038.15">mediated immune</text><text x="1850" y="1051.45">response</text></g>
<g id="n-negregbcell"><rect class="box" x="1973" y="901" width="119" height="50"/><text x="2032.5" y="912.7">negative regulation</text><text x="2032.5" y="926">of B cell mediated</text><text x="2032.5" y="939.3">immunity</text></g>
<g id="n-regclassical"><rect class="box" x="1233" y="1118" width="145" height="50"/><text x="1305.5" y="1129.7">regulation of</text><text x="1305.5" y="1143">complement activation,</text><text x="1305.5" y="1156.3">classical pathway</text></g>
<g id="n-neghumcirc"><rect class="box" x="1460" y="1105" width="121" height="76"/><text x="1520.5" y="1116.4">negative regulation</text><text x="1520.5" y="1129.7">of humoral immune</text><text x="1520.5" y="1143">response mediated</text><text x="1520.5" y="1156.3">by circulating</text><text x="1520.5" y="1169.6">immunoglobulin</text></g>
<g id="n-negregclassical"><rect class="box" x="1185" y="1217" width="119" height="62"/><text x="1244.5" y="1228.05">negative regulation</text><text x="1244.5" y="1241.35">of complement</text><text x="1244.5" y="1254.65">activation,</text><text x="1244.5" y="1267.95">classical pathway</text><rect class="cr" x="1185" y="1279" width="60" height="22"/><rect class="cr" x="1245" y="1279" width="59" height="22"/><text x="1215" y="1290">Human</text><text x="1274.5" y="1290">C4BPA</text></g>
</svg>
